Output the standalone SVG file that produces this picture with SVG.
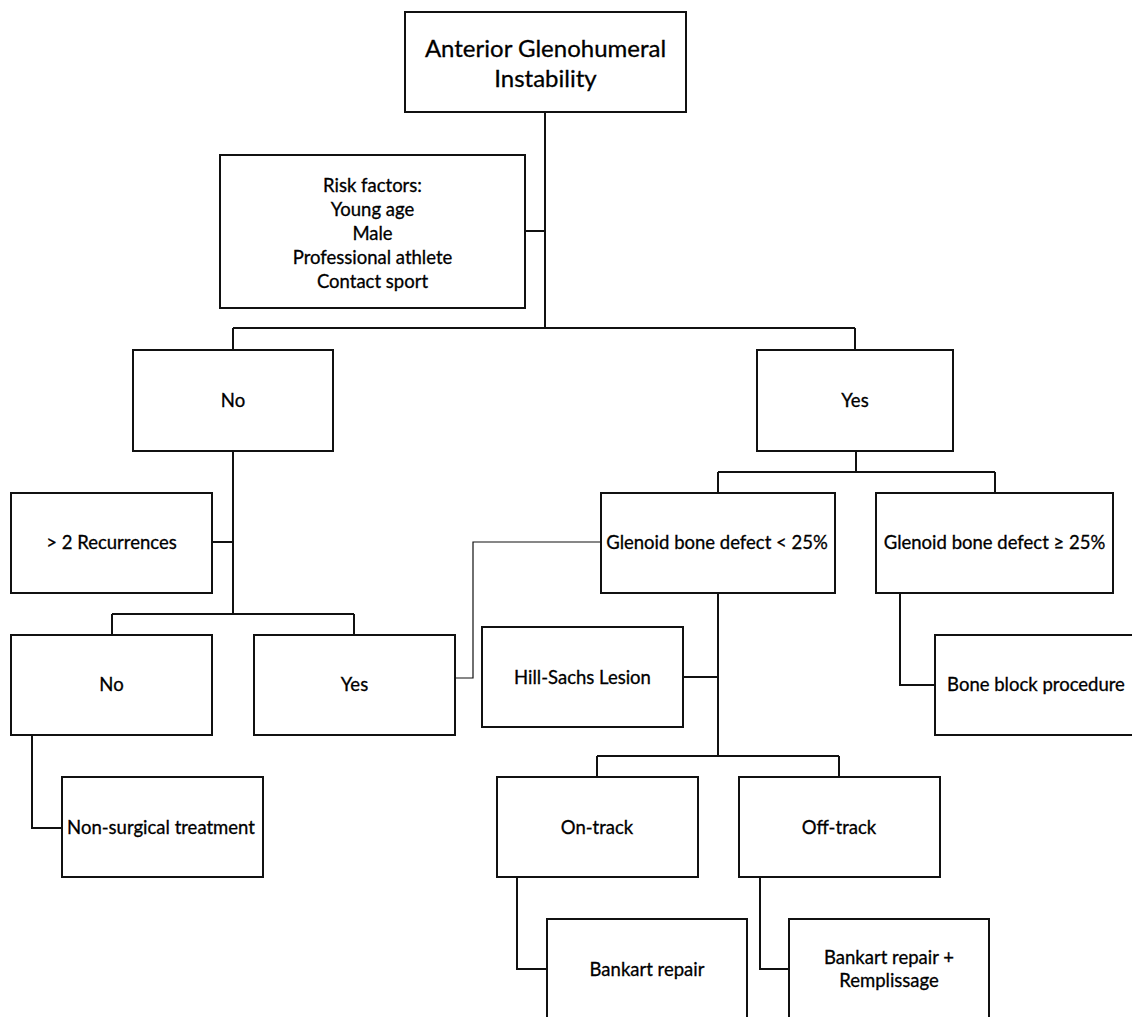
<svg xmlns="http://www.w3.org/2000/svg" width="1132" height="1017" viewBox="0 0 1132 1017">
<style>
.box{fill:#fff;stroke:#111;stroke-width:2}
.ln{fill:none;stroke:#111;stroke-width:2}
.thin{fill:none;stroke:#111;stroke-width:1.2}
text{font-family:Lato,"Open Sans","Liberation Sans",sans-serif;font-size:18.5px;fill:#000;stroke:#000;stroke-width:0.3;text-anchor:middle;dominant-baseline:central}
.big{font-size:24px}
</style>
<rect width="1132" height="1017" fill="#fff"/>
<g id="connectors">
<path class="ln" d="M545 112V328M525 231H545M233 328H855M233 328V350M855 328V350"/>
<path class="ln" d="M233 451V614M212 542H233M112 614H354M112 614V635M354 614V635"/>
<path class="ln" d="M32 735V828H62"/>
<path class="ln" d="M856 451V472M718 472H995M718 472V493M995 472V493"/>
<path class="thin" d="M601 542H473V678H455"/>
<path class="ln" d="M718 593V756M683 677H718M597 756H839M597 756V777M839 756V777"/>
<path class="ln" d="M900 593V685H935"/>
<path class="ln" d="M517 877V969H547M760 877V969H789"/>
</g>
<g id="n-top"><rect class="box" x="405" y="12" width="281" height="100"/><text class="big" x="545.5" y="47">Anterior Glenohumeral</text><text class="big" x="545.5" y="77">Instability</text></g>
<g id="n-risk"><rect class="box" x="220" y="155" width="305" height="153"/><text x="372.5" y="185">Risk factors:</text><text x="372.5" y="209">Young age</text><text x="372.5" y="233">Male</text><text x="372.5" y="257">Professional athlete</text><text x="372.5" y="281">Contact sport</text></g>
<g id="n-no"><rect class="box" x="133" y="350" width="200" height="101"/><text x="233" y="400">No</text></g>
<g id="n-yes"><rect class="box" x="757" y="350" width="196" height="101"/><text x="855" y="400">Yes</text></g>
<g id="n-recur"><rect class="box" x="11" y="493" width="201" height="100"/><text x="111.5" y="542">&gt; 2 Recurrences</text></g>
<g id="n-no2"><rect class="box" x="11" y="635" width="201" height="100"/><text x="111.5" y="684">No</text></g>
<g id="n-yes2"><rect class="box" x="254" y="635" width="201" height="100"/><text x="354.5" y="684">Yes</text></g>
<g id="n-nonsurg"><rect class="box" x="62" y="777" width="201" height="100"/><text x="161" y="827">Non-surgical treatment</text></g>
<g id="n-glen-lt"><rect class="box" x="601" y="493" width="234" height="100"/><text x="717" y="542">Glenoid bone defect &lt; 25%</text></g>
<g id="n-glen-ge"><rect class="box" x="876" y="493" width="237" height="100"/><text x="994.5" y="542">Glenoid bone defect ≥ 25%</text></g>
<g id="n-hill"><rect class="box" x="482" y="627" width="201" height="100"/><text x="582.5" y="677">Hill-Sachs Lesion</text></g>
<g id="n-boneblock"><rect class="box" x="935" y="635" width="201" height="100"/><text x="1036" y="684">Bone block procedure</text></g>
<g id="n-ontrack"><rect class="box" x="497" y="777" width="201" height="100"/><text x="597" y="827">On-track</text></g>
<g id="n-offtrack"><rect class="box" x="739" y="777" width="201" height="100"/><text x="839" y="827">Off-track</text></g>
<g id="n-bankart"><rect class="box" x="547" y="919" width="200" height="102"/><text x="647" y="969">Bankart repair</text></g>
<g id="n-remp"><rect class="box" x="789" y="919" width="200" height="102"/><text x="889" y="957">Bankart repair +</text><text x="889" y="980">Remplissage</text></g>
</svg>
